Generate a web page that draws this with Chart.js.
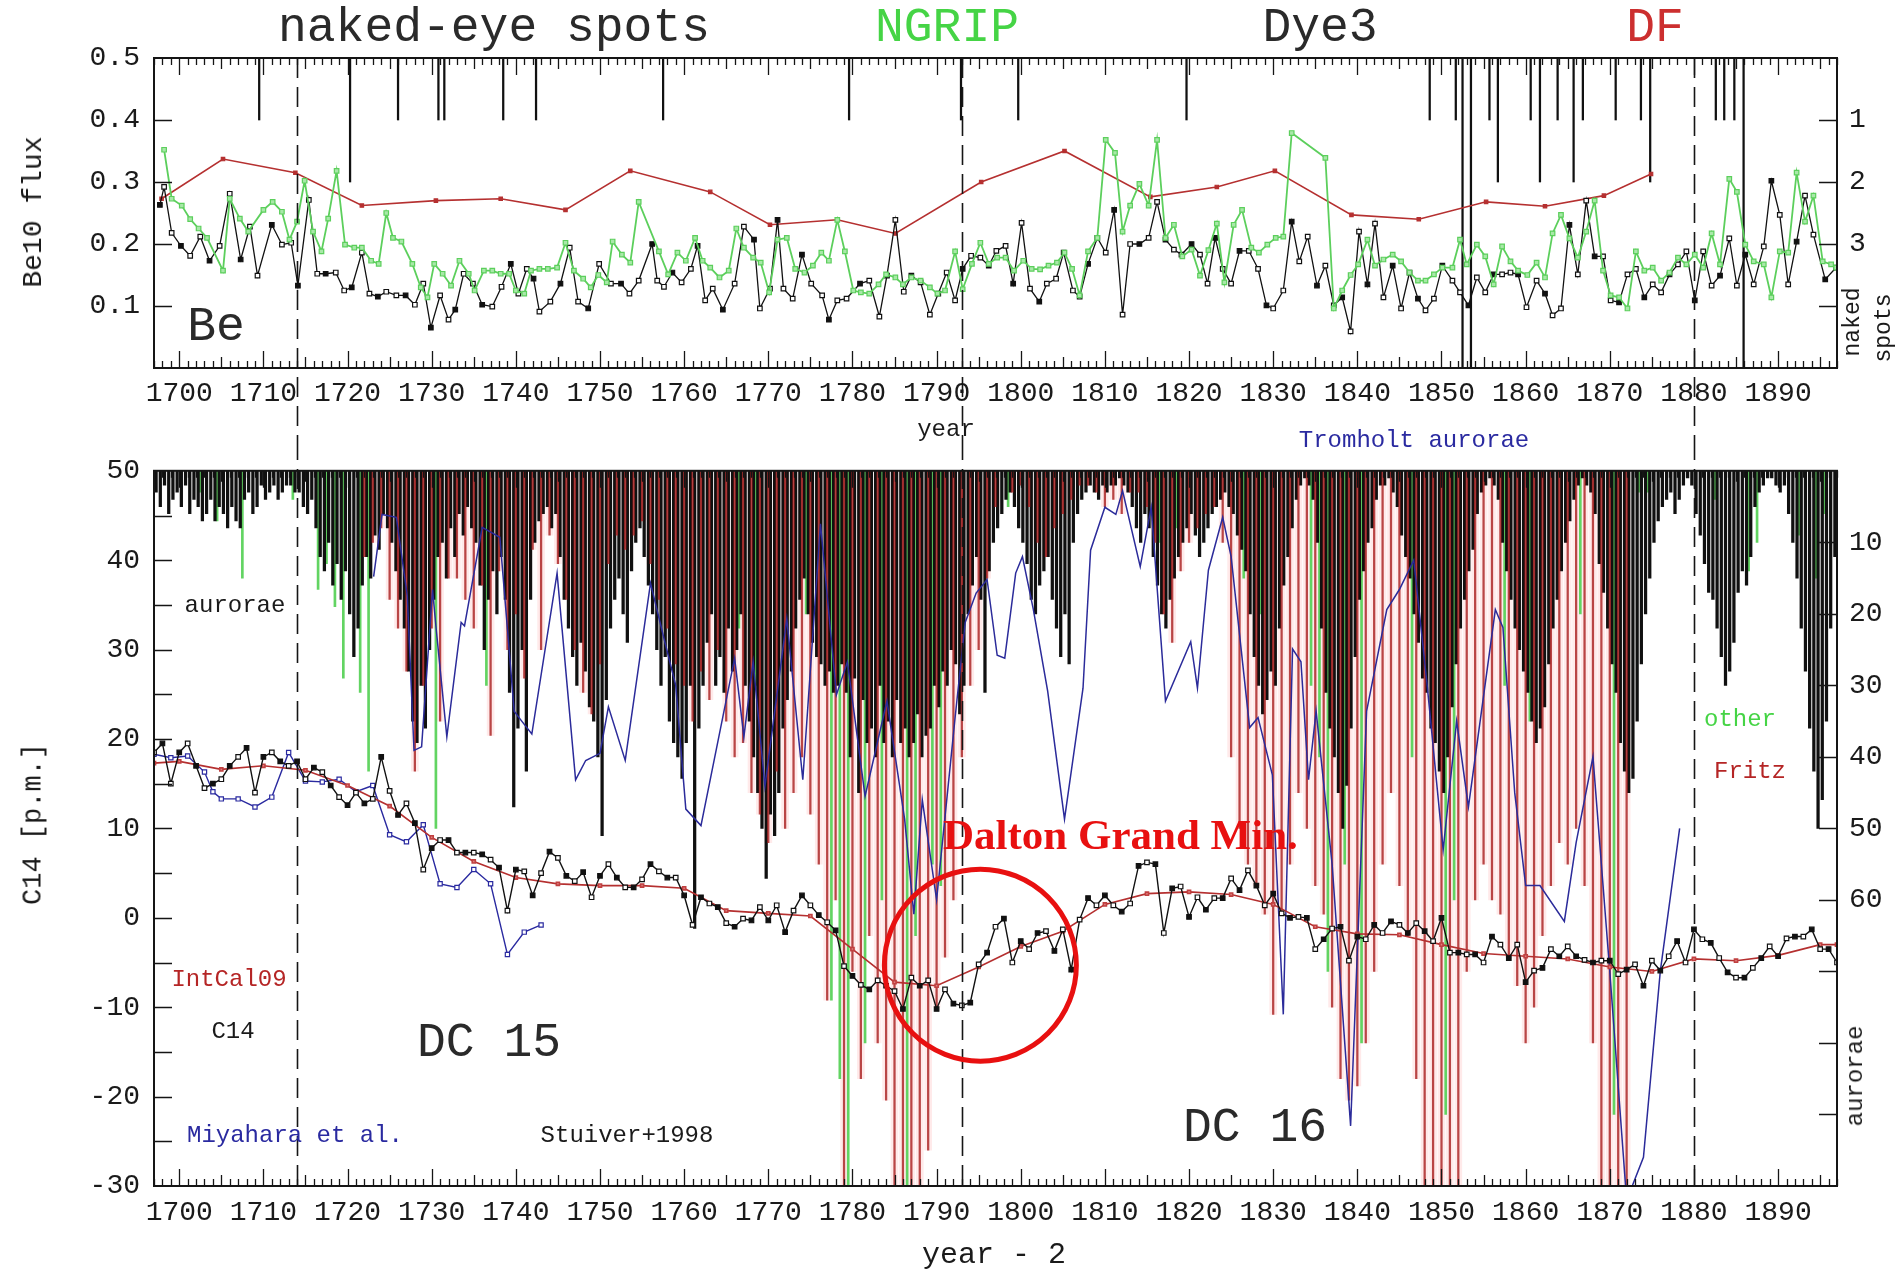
<!DOCTYPE html>
<html>
<head>
<meta charset="utf-8">
<title>Be10, C14 and aurorae 1697-1897</title>
<script src="https://cdn.jsdelivr.net/npm/chart.js@4.4.1/dist/chart.umd.min.js"></script>
<style>
  html, body { margin: 0; padding: 0; background: #ffffff; }
  #page { position: relative; width: 1901px; height: 1272px; overflow: hidden; background: #ffffff;
          font-family: 'Liberation Mono', 'DejaVu Sans Mono', monospace; }
  #page canvas { position: absolute; left: 0; }
  #c1 { top: 0; }
  #c2 { top: 440px; }
  .lbl { position: absolute; white-space: nowrap; line-height: 1; transform: translate(-50%, -50%); }
  .rot { transform: translate(-50%, -50%) rotate(-90deg); }
</style>
</head>
<body>
<div id="page">
  <canvas id="c1" width="1901" height="440"></canvas>
  <canvas id="c2" width="1901" height="832"></canvas>

  <!-- upper panel captions -->
  <div class="lbl" style="left:494px;top:28px;font-size:48px;color:#2a2a2a;">naked-eye spots</div>
  <div class="lbl" style="left:947px;top:28px;font-size:48px;color:#45d445;">NGRIP</div>
  <div class="lbl" style="left:1320px;top:28px;font-size:48px;color:#2a2a2a;">Dye3</div>
  <div class="lbl" style="left:1655px;top:28px;font-size:48px;color:#cc2f2f;">DF</div>
  <div class="lbl" style="left:216px;top:327px;font-size:48px;color:#2a2a2a;">Be</div>
  <div class="lbl rot" style="left:34px;top:212px;font-size:28px;color:#1a1a1a;">Be10 flux</div>
  <div class="lbl rot" style="left:1853px;top:322px;font-size:23px;color:#1a1a1a;">naked</div>
  <div class="lbl rot" style="left:1884px;top:328px;font-size:23px;color:#1a1a1a;">spots</div>
  <div class="lbl" style="left:946px;top:430px;font-size:24px;color:#1a1a1a;">year</div>

  <!-- lower panel captions -->
  <div class="lbl" style="left:1414px;top:441px;font-size:24px;color:#2a2aa0;">Tromholt aurorae</div>
  <div class="lbl rot" style="left:34px;top:824px;font-size:27px;color:#1a1a1a;">C14 [p.m.]</div>
  <div class="lbl" style="left:235px;top:606px;font-size:24px;color:#1a1a1a;">aurorae</div>
  <div class="lbl" style="left:229px;top:980px;font-size:24px;color:#b52525;">IntCal09</div>
  <div class="lbl" style="left:233px;top:1032px;font-size:24px;color:#1a1a1a;">C14</div>
  <div class="lbl" style="left:489px;top:1043px;font-size:48px;color:#2a2a2a;">DC 15</div>
  <div class="lbl" style="left:1255px;top:1128px;font-size:48px;color:#2a2a2a;">DC 16</div>
  <div class="lbl" style="left:295px;top:1136px;font-size:24px;color:#2a2aa0;">Miyahara et al.</div>
  <div class="lbl" style="left:627px;top:1136px;font-size:24px;color:#1a1a1a;">Stuiver+1998</div>
  <div class="lbl" style="left:1740px;top:720px;font-size:24px;color:#45d445;">other</div>
  <div class="lbl" style="left:1750px;top:772px;font-size:24px;color:#b52525;">Fritz</div>
  <div class="lbl rot" style="left:1856px;top:1076px;font-size:24px;color:#1a1a1a;">aurorae</div>
  <div class="lbl" style="left:994px;top:1255px;font-size:30px;color:#1a1a1a;">year - 2</div>
  <div class="lbl" style="left:943px;top:834px;transform:translate(0,-50%);font-family:'Liberation Serif','Times New Roman',serif;font-weight:bold;font-size:43px;color:#e81010;">Dalton Grand Min.</div>
</div>

<script>
// ---------------- axis ranges and tick labels ----------------
const yearMin = 1697, yearMax = 1897;
const decadeLabels = [1700, 1710, 1720, 1730, 1740, 1750, 1760, 1770, 1780, 1790,
                      1800, 1810, 1820, 1830, 1840, 1850, 1860, 1870, 1880, 1890];
const beLabels = [0.1, 0.2, 0.3, 0.4, 0.5];
const beTickMarks = [0.1, 0.2, 0.3, 0.4];
const spotLabels = [1, 2, 3];
const spotTickMarks = [1, 2, 3, 4];
const c14Labels = [-30, -20, -10, 0, 10, 20, 30, 40, 50];
const c14TickMarks = [-25, -20, -15, -10, -5, 0, 5, 10, 15, 20, 25, 30, 35, 40, 45];
const aurLabels = [10, 20, 30, 40, 50, 60];
const aurTickMarks = [10, 20, 30, 40, 50, 60, 70, 80, 90];
const dashedYears = [1714, 1793, 1880];
const daltonCircle = { year: 1795.2, c14: -5.3, radius: 96 };

// ---------------- naked-eye sunspot sightings (count per year) ----------------
const spotYears = [1709.5, 1720.3, 1726.0, 1730.8, 1731.5, 1738.5, 1742.4, 1757.5, 1779.6, 1792.9,
                   1799.7, 1819.7, 1848.6, 1851.7, 1852.5, 1853.5, 1855.7, 1856.7, 1860.6, 1861.7,
                   1863.8, 1865.7, 1866.8, 1870.7, 1873.7, 1874.8, 1882.6, 1883.6, 1884.8, 1885.9];
const spotCounts = [1, 2, 1, 1, 1, 1, 1, 1, 1, 1,
                    1, 1, 1, 1, 5, 5, 1, 2, 1, 2,
                    1, 2, 1, 1, 1, 2, 1, 1, 1, 5];

// ---------------- Be10 flux: Dye3 ----------------
const dye3Years = [1697.7, 1698.2, 1699.1, 1700.2, 1701.3, 1702.5, 1703.6, 1704.8, 1706.0, 1707.3,
  1708.4, 1709.3, 1711.0, 1712.2, 1713.3, 1714.1, 1715.4, 1716.4, 1717.4, 1718.6,
  1719.6, 1720.5, 1721.7, 1722.6, 1723.6, 1724.6, 1725.8, 1726.9, 1728.0, 1729.0,
  1729.9, 1731.0, 1732.0, 1732.8, 1733.8, 1734.9, 1736.0, 1737.2, 1738.3, 1739.4,
  1740.3, 1741.3, 1742.1, 1742.8, 1744.1, 1745.3, 1746.4, 1747.4, 1748.6, 1749.9,
  1751.3, 1752.5, 1753.5, 1754.6,
  1756.2, 1756.8, 1757.6, 1758.6, 1759.7, 1760.8, 1761.6, 1762.5, 1763.4, 1764.6,
  1766.0, 1767.1, 1768.3, 1769.0, 1770.2, 1771.1, 1771.8, 1772.9, 1774.0, 1775.1,
  1776.4, 1777.2, 1778.2, 1779.3, 1780.9, 1782.0, 1783.2, 1784.1, 1785.1, 1786.1,
  1787.0, 1788.1, 1789.2, 1790.2, 1791.2, 1792.2,
  1793.1, 1794.1, 1795.2, 1796.2, 1797.1, 1798.2, 1799.1, 1800.1, 1801.1, 1802.2,
  1803.1, 1804.2, 1805.1, 1806.2, 1807.0, 1808.0, 1809.1, 1810.1, 1811.1, 1812.1,
  1813.0, 1814.1, 1815.2, 1816.2, 1817.2, 1818.2, 1819.1, 1820.3, 1821.3, 1822.2,
  1823.1, 1824.0, 1825.0, 1826.0, 1827.1, 1828.2,
  1829.2, 1830.0, 1831.2, 1832.2, 1833.1, 1834.1, 1835.2, 1836.2, 1837.2, 1838.2,
  1839.2, 1840.2, 1841.2, 1842.1, 1843.1, 1844.2, 1845.2, 1846.2, 1847.2, 1848.1,
  1849.1, 1850.1, 1851.3, 1852.2, 1853.2, 1854.2, 1855.2, 1856.2, 1857.2, 1858.2,
  1859.1, 1860.1, 1861.3, 1862.3, 1863.2, 1864.2, 1865.2, 1866.2, 1867.2, 1868.2,
  1869.2, 1870.1, 1871.1, 1872.1, 1873.1, 1874.1, 1875.1, 1876.1, 1877.1, 1878.1,
  1879.1, 1880.1, 1881.1, 1882.1, 1883.1, 1884.2, 1885.1, 1886.1, 1887.1, 1888.3,
  1889.2, 1890.2, 1891.2, 1892.2, 1893.2, 1894.2, 1895.6, 1896.9];
const dye3Flux = [0.263, 0.292, 0.218, 0.197, 0.181, 0.212, 0.173, 0.197, 0.281, 0.175,
  0.228, 0.149, 0.231, 0.199, 0.202, 0.133, 0.271, 0.152, 0.152, 0.154,
  0.125, 0.130, 0.186, 0.120, 0.115, 0.123, 0.117, 0.117, 0.102, 0.136,
  0.065, 0.117, 0.078, 0.094, 0.152, 0.136, 0.102, 0.099, 0.131, 0.168,
  0.120, 0.160, 0.144, 0.091, 0.107, 0.136, 0.194, 0.107, 0.096, 0.168,
  0.136, 0.136, 0.120, 0.141,
  0.200, 0.141, 0.131, 0.154, 0.138, 0.160, 0.197, 0.109, 0.128, 0.094,
  0.136, 0.228, 0.207, 0.096, 0.128, 0.239, 0.128, 0.112, 0.183, 0.136,
  0.117, 0.078, 0.109, 0.112, 0.136, 0.141, 0.083, 0.149, 0.239, 0.123,
  0.149, 0.138, 0.086, 0.120, 0.154, 0.109,
  0.160, 0.181, 0.178, 0.165, 0.189, 0.197, 0.136, 0.234, 0.128, 0.107,
  0.136, 0.144, 0.186, 0.125, 0.115, 0.168, 0.210, 0.186, 0.255, 0.086,
  0.200, 0.200, 0.210, 0.268, 0.207, 0.191, 0.183, 0.200, 0.183, 0.136,
  0.210, 0.160, 0.136, 0.189, 0.189, 0.160,
  0.101, 0.096, 0.125, 0.236, 0.172, 0.212, 0.133, 0.165, 0.101, 0.114,
  0.059, 0.220, 0.135, 0.233, 0.114, 0.165, 0.096, 0.154, 0.112, 0.093,
  0.112, 0.165, 0.141, 0.122, 0.101, 0.146, 0.122, 0.151, 0.151, 0.154,
  0.151, 0.098, 0.141, 0.120, 0.085, 0.096, 0.231, 0.151, 0.270, 0.180,
  0.180, 0.109, 0.106, 0.151, 0.160, 0.114, 0.135, 0.122, 0.151, 0.167,
  0.188, 0.109, 0.188, 0.133, 0.149, 0.209, 0.133, 0.183, 0.135, 0.196,
  0.302, 0.247, 0.135, 0.204, 0.278, 0.215, 0.143, 0.162];

// ---------------- Be10 flux: NGRIP ----------------
const ngripYears = [1698.2, 1699.1, 1700.3, 1701.3, 1702.3, 1703.3, 1705.2, 1706.0, 1707.2, 1708.2,
  1710.0, 1711.1, 1712.2, 1713.1, 1714.0, 1714.9, 1715.9, 1716.9, 1717.7, 1718.7,
  1719.7, 1720.8, 1721.7, 1722.8, 1723.7, 1724.6, 1725.4, 1726.4, 1727.7, 1728.7,
  1729.5, 1730.3, 1731.3, 1732.3, 1733.3, 1734.4, 1735.1, 1736.2, 1737.2, 1738.2,
  1739.2, 1740.0, 1741.0, 1741.8, 1742.8, 1743.8, 1744.9, 1745.9, 1746.9, 1748.0,
  1748.9, 1749.8, 1750.8, 1751.5, 1752.6, 1753.6, 1754.6,
  1757.0, 1758.1, 1759.2, 1760.2, 1761.3, 1762.2, 1763.1, 1764.2, 1765.3, 1766.2,
  1767.1, 1768.2, 1769.1, 1770.1, 1771.1, 1772.2, 1773.2, 1774.3, 1775.3, 1776.3,
  1777.2, 1778.2, 1779.1, 1780.1, 1781.0, 1782.0, 1783.1, 1784.0, 1785.1, 1786.0,
  1787.0, 1788.1, 1789.2, 1790.1, 1791.0, 1792.2, 1793.1, 1794.2, 1795.2, 1796.2,
  1797.2, 1798.2, 1799.2, 1800.3, 1801.3, 1802.3, 1803.3, 1804.3, 1805.2, 1806.1,
  1807.0, 1808.0, 1809.1, 1810.1, 1811.2, 1812.1, 1813.0, 1814.1, 1815.2, 1816.2,
  1817.2, 1818.2, 1819.2, 1820.3, 1821.3, 1822.3, 1823.3, 1824.2, 1825.3, 1826.3,
  1827.4, 1828.3, 1829.3, 1830.3, 1831.2, 1832.2, 1836.2, 1837.2, 1838.2, 1839.2,
  1840.1, 1841.2, 1842.1, 1843.1, 1844.2, 1845.2, 1846.2, 1847.2, 1848.1, 1849.1,
  1850.1, 1851.3, 1852.2, 1853.0, 1854.2, 1855.2, 1856.2, 1857.2, 1858.2, 1859.1,
  1860.2, 1861.3, 1862.3, 1863.2, 1864.2, 1865.2, 1866.2, 1867.2, 1868.2, 1869.2,
  1870.1, 1871.1, 1872.1, 1873.1, 1874.1, 1875.1, 1876.1, 1877.1, 1878.1, 1879.1,
  1880.1, 1881.1, 1882.1, 1883.1, 1884.2, 1885.1, 1886.1, 1887.1, 1888.3, 1889.2,
  1890.2, 1891.2, 1892.2, 1893.2, 1894.2, 1895.3, 1896.3, 1896.9];
const ngripFlux = [0.352, 0.273, 0.262, 0.240, 0.225, 0.210, 0.157, 0.273, 0.241, 0.220,
  0.255, 0.268, 0.252, 0.207, 0.236, 0.302, 0.220, 0.188, 0.241, 0.318,
  0.199, 0.194, 0.194, 0.173, 0.168, 0.250, 0.210, 0.204, 0.168, 0.130,
  0.114, 0.168, 0.152, 0.133, 0.173, 0.152, 0.125, 0.157, 0.157, 0.152,
  0.152, 0.125, 0.120, 0.157, 0.160, 0.160, 0.162, 0.202, 0.157, 0.144,
  0.130, 0.150, 0.138, 0.204, 0.183, 0.170, 0.268,
  0.188, 0.151, 0.186, 0.173, 0.210, 0.173, 0.162, 0.146, 0.157, 0.225,
  0.194, 0.178, 0.170, 0.122, 0.207, 0.210, 0.160, 0.154, 0.165, 0.186,
  0.173, 0.239, 0.188, 0.125, 0.122, 0.120, 0.135, 0.151, 0.146, 0.135,
  0.146, 0.141, 0.130, 0.120, 0.125, 0.188, 0.127, 0.168, 0.202, 0.168,
  0.178, 0.178, 0.157, 0.173, 0.160, 0.159, 0.165, 0.170, 0.186, 0.160,
  0.117, 0.188, 0.210, 0.368, 0.347, 0.220, 0.262, 0.297, 0.262, 0.368,
  0.210, 0.231, 0.180, 0.191, 0.149, 0.190, 0.233, 0.138, 0.231, 0.255,
  0.194, 0.186, 0.199, 0.210, 0.212, 0.379, 0.339, 0.096, 0.125, 0.150,
  0.167, 0.207, 0.165, 0.175, 0.183, 0.172, 0.154, 0.141, 0.141, 0.151,
  0.162, 0.162, 0.207, 0.167, 0.199, 0.180, 0.135, 0.196, 0.172, 0.157,
  0.150, 0.170, 0.146, 0.217, 0.247, 0.209, 0.178, 0.220, 0.270, 0.157,
  0.117, 0.114, 0.096, 0.188, 0.157, 0.162, 0.141, 0.154, 0.178, 0.167,
  0.183, 0.162, 0.217, 0.167, 0.305, 0.284, 0.199, 0.172, 0.167, 0.114,
  0.188, 0.186, 0.315, 0.236, 0.278, 0.172, 0.167, 0.162];

// ---------------- Be10 flux: DF ----------------
const dfYears = [1697.9, 1705.2, 1713.8, 1721.7, 1730.5, 1738.2, 1745.9, 1753.6, 1763.1, 1770.2,
                 1778.2, 1785.1, 1795.3, 1805.2, 1815.4, 1823.3, 1830.2, 1839.3, 1847.3, 1855.3,
                 1862.3, 1869.3, 1874.9];
const dfFlux = [0.273, 0.337, 0.315, 0.262, 0.270, 0.273, 0.255, 0.318, 0.284, 0.231,
                0.239, 0.217, 0.300, 0.350, 0.276, 0.292, 0.318, 0.247, 0.240, 0.268,
                0.261, 0.278, 0.313];

// ---------------- C14 (Stuiver+1998), annual from 1697 ----------------
const c14Start = 1697;
const c14Values = [18.5, 19.5, 15.0,
  18.5, 19.5, 17.0, 14.5, 15.0, 15.5, 17.0, 18.0, 19.0, 14.0,
  18.0, 18.5, 17.5, 17.0, 17.5, 15.5, 16.8, 16.3, 14.8, 13.5,
  12.6, 14.0, 12.8, 13.3, 18.0, 14.2, 11.5, 12.8, 10.6, 5.4,
  7.8, 8.7, 8.7, 7.3, 7.3, 7.3, 7.1, 6.5, 5.6, 0.8,
  5.4, 5.2, 2.5, 5.0, 7.4, 6.7, 4.7, 4.1, 5.1, 2.3,
  4.7, 6.0, 4.5, 3.4, 3.4, 4.3, 6.0, 5.2, 4.5, 4.5,
  2.5, -0.8, 2.3, 1.6, 1.2, -0.6, -1.0, -0.1, -0.3, 1.2,
  -0.3, 1.4, -1.6, 0.8, 2.5, 1.4, 0.3, -0.5, -1.4, -5.4,
  -6.5, -7.5, -8.0, -7.0, -7.6, -8.2, -10.2, -6.7, -7.6, -7.0,
  -10.2, -8.0, -9.6, -9.8, -9.5, -5.2, -3.9, -1.0, -0.1, -5.0,
  -2.6, -3.5, -1.7, -1.5, -3.7, -1.3, -5.8, -0.2, 2.2, 1.4,
  2.5, 1.4, 0.7, 1.6, 5.8, 6.2, 6.0, -1.7, 3.3, 3.5,
  0.1, 2.3, 0.9, 2.2, 2.2, 4.4, 3.1, 5.3, 3.6, 1.4,
  2.7, 0.5, 0.0, 0.1, 0.0, -3.5, -2.4, -1.2, -1.0, -4.8,
  -2.1, -2.4, -0.8, -1.7, -0.4, -0.8, -1.7, -0.6, -1.5, -2.6,
  0.0, -3.9, -3.9, -4.1, -4.1, -5.0, -2.1, -3.0, -4.5, -3.0,
  -7.2, -5.9, -5.6, -3.5, -4.3, -3.2, -4.3, -4.7, -5.0, -4.8,
  -4.8, -6.3, -5.8, -5.2, -7.6, -4.8, -5.9, -4.3, -2.6, -5.0,
  -1.3, -2.4, -2.8, -4.5, -6.1, -6.7, -6.7, -5.6, -4.5, -3.2,
  -4.3, -2.3, -2.1, -2.1, -1.3, -3.5, -3.5, -5.0];

// ---------------- IntCal09 ----------------
const intcalYears = [1697, 1700, 1705, 1710, 1715, 1720, 1725, 1730, 1735, 1740, 1745, 1750, 1755, 1760,
  1765, 1770, 1775, 1780, 1785, 1790, 1795, 1800, 1805, 1810, 1815, 1820, 1825, 1830, 1835,
  1840, 1845, 1850, 1855, 1860, 1865, 1870, 1875, 1880, 1885, 1890, 1895, 1897];
const intcalValues = [17.3, 17.5, 16.6, 17.0, 16.5, 14.8, 12.5, 9.0, 6.3, 4.5, 3.8, 3.6, 3.6, 3.3,
  0.8, 0.5, 0.2, -3.5, -7.2, -7.6, -5.5, -3.2, -1.5, 1.5, 2.7, 2.9, 2.6, 1.5, -1.0,
  -1.8, -1.9, -3.0, -4.0, -4.3, -4.6, -5.5, -6.0, -4.6, -4.8, -4.2, -3.0, -3.0];

// ---------------- Miyahara et al. ----------------
const miyaharaYears = [1697, 1699, 1701, 1703, 1704, 1705, 1707, 1709, 1711, 1713, 1715, 1717, 1719,
  1721, 1723, 1725, 1727, 1729, 1731, 1733, 1735, 1737, 1739, 1741, 1743];
const miyaharaValues = [18.3, 17.9, 18.1, 16.3, 14.1, 13.3, 13.3, 12.4, 13.5, 18.5, 15.3, 15.2, 15.5,
  14.1, 14.8, 9.3, 8.5, 10.4, 3.8, 3.4, 5.4, 3.8, -4.1, -1.6, -0.8];

// ---------------- aurorae: catalogue counts, half-yearly from 1697 ----------------
const aurStart = 1697;
const aurCounts = [3, 5, 2, 6, 4, 3,
  5, 2, 6, 4, 5, 7, 6, 4, 7, 5, 6, 8, 5, 7, 8, 4, 3, 6, 5, 2,
  4, 3, 2, 4, 3, 2, 2, 3, 3, 5, 6, 4, 8, 12, 14, 10, 16, 13, 18, 14,
  20, 26, 22, 16, 12, 15, 9, 11, 6, 8, 10, 14, 18, 22, 28, 35, 38, 30, 36, 25,
  18, 12, 10, 15, 8, 12, 6, 9, 5, 8, 10, 16, 25, 18, 14, 20, 12, 18, 31, 47,
  36, 25, 42, 18, 10, 7, 6, 5, 8, 6, 12, 18, 22, 26, 30, 24, 28, 33, 35, 40,
  51, 32, 22, 18, 15, 20, 24, 14, 10, 8, 12, 16, 20, 25, 30, 26, 35, 38, 40, 43,
  38, 30, 64, 36, 30, 24, 20, 30, 26, 31, 22, 28, 25, 20, 30, 35, 40, 45, 50, 57,
  48, 51, 45, 36, 32, 28, 22, 18, 15, 20, 24, 26, 27, 30, 28, 31, 30, 27, 31, 40,
  29, 45, 32, 38, 36, 40, 30, 38, 35, 40, 32, 38, 36, 40, 38, 34, 40, 37, 36, 30,
  33, 28, 30, 25, 27, 34, 30, 20, 16, 12, 18, 31, 14, 10, 8, 6, 4, 3, 5, 8,
  10, 13, 18, 20, 16, 14, 12, 18, 22, 26, 20, 27, 10, 6, 4, 3, 2, 3, 4, 2,
  3, 2, 2, 1, 2, 3, 5, 8, 10, 6, 8, 12, 16, 20, 22, 18, 15, 12, 10, 8,
  6, 9, 12, 10, 8, 6, 5, 4, 3, 5, 6, 9, 11, 14, 20, 26, 30, 34, 32, 28,
  30, 22, 16, 12, 8, 4, 2, 1, 2, 4, 10, 22, 31, 36, 40, 45, 50, 44, 36, 26,
  18, 14, 10, 8, 4, 2, 2, 1, 3, 5, 9, 12, 15, 20, 24, 29, 31, 36, 38, 42,
  45, 40, 33, 27, 22, 18, 14, 11, 6, 3, 2, 1, 2, 4, 10, 14, 18, 22, 25, 28,
  31, 35, 38, 36, 33, 27, 22, 18, 14, 10, 7, 4, 2, 1, 2, 3, 6, 13, 17, 22,
  27, 31, 38, 42, 45, 43, 35, 27, 20, 15, 10, 7, 5, 4, 3, 6, 4, 2, 1, 2,
  6, 9, 13, 17, 18, 22, 26, 30, 28, 24, 17, 14, 16, 12, 5, 3, 2, 1, 1, 2,
  3, 2, 6, 10, 15, 22, 28, 36, 42, 50, 46, 35, 22, 12];

// ---------------- aurorae: Fritz, annual from 1722 ----------------
const fritzStart = 1722;
const fritzCounts = [12, 10, 8, 18, 22, 28, 42, 30,
  22, 35, 15, 15, 18, 22, 16, 37, 14, 25,
  20, 29, 11, 25, 9, 13, 18, 25, 31, 34,
  27, 13, 9, 11, 9, 7, 13, 18, 22, 27,
  30, 35, 28, 32, 25, 35, 40, 38, 45, 48,
  52, 42, 50, 45, 40, 48, 55, 74, 60, 100,
  70, 85, 65, 80, 88, 100, 100, 100, 100, 95,
  75, 68, 60, 40, 30, 25, 15, 5, 0, 3,
  2, 5, 10, 12, 8, 6, 4, 2, 2, 3,
  5, 4, 6, 3, 3, 5, 10, 20, 24, 14,
  10, 8, 6, 5, 10, 40, 50, 55, 58, 62,
  76, 62, 55, 45, 50, 58, 62, 75, 85, 88,
  86, 80, 70, 55, 45, 58, 65, 85, 100, 100,
  100, 100, 100, 70, 60, 55, 60, 62, 68, 72,
  80, 75, 65, 58, 52, 55, 50, 58, 80, 100,
  100, 100, 100];

// ---------------- aurorae: other catalogues ----------------
const otherYears = [1702.5, 1704.5, 1707.5, 1713.5, 1716.5, 1717.5, 1718.5, 1719.5, 1721.5, 1722.5,
  1730.5, 1736.5, 1766.5, 1768.5, 1774.5, 1777.5, 1778.5, 1779.5, 1781.5, 1783.5,
  1786.5, 1787.5, 1789.5, 1790.5, 1798.5, 1816.5, 1818.5, 1826.5, 1828.5, 1834.5,
  1835.5, 1836.5, 1838.5, 1840.5, 1846.5, 1850.5, 1851.5, 1857.5, 1860.5, 1866.5,
  1870.5, 1873.5, 1874.5, 1882.5, 1886.5, 1887.5, 1892.5, 1894.5, 1895.5];
const otherCounts = [3, 7, 15, 4, 16.6, 13, 19, 29, 31, 42,
  50, 30, 22, 30, 20, 74, 85, 100, 80, 60,
  100, 65, 55, 58, 5, 10, 8, 15, 20, 30,
  40, 70, 55, 80, 40, 90, 60, 30, 35, 20,
  90, 3, 3, 4, 14, 10, 9, 15, 6];

// ---------------- Tromholt aurorae ----------------
const tromYears = [1723.1, 1724.1, 1725.8, 1727.1, 1727.9, 1728.8, 1730.1, 1730.5, 1731.8, 1733.5,
  1733.9, 1736.0, 1738.1, 1739.0, 1739.8, 1740.7, 1741.9, 1744.9, 1747.1, 1748.3,
  1750.0, 1751.0, 1753.0, 1756.0, 1757.7, 1759.0, 1760.2, 1762.0, 1766.0, 1767.1,
  1768.2, 1769.6, 1772.2, 1774.1, 1776.2, 1778.1, 1779.4, 1781.5, 1784.1, 1786.2,
  1787.3, 1788.3, 1790.0, 1792.2, 1793.4, 1794.7, 1796.0, 1797.2, 1798.1, 1799.4,
  1800.2, 1801.5, 1803.2, 1805.2, 1807.4, 1808.3, 1810.0, 1811.3, 1812.1, 1814.2,
  1815.5, 1817.2, 1820.2, 1821.0, 1822.3, 1824.0, 1825.0, 1827.2, 1828.2, 1829.9,
  1831.2, 1832.3, 1833.3, 1834.2, 1835.1, 1837.0, 1839.2, 1841.1, 1843.5, 1845.0,
  1846.7, 1848.3, 1850.2, 1851.8, 1853.2, 1856.4, 1857.3, 1858.7, 1860.0, 1861.7,
  1864.6, 1866.0, 1868.0, 1870.0, 1872.0, 1874.0, 1876.0, 1878.3];
const tromCounts = [14.8, 6.1, 6.5, 17.5, 39.1, 38.6, 16.6, 21.7, 37.2, 21.2,
  21.7, 7.9, 9.3, 22.1, 33.6, 35.0, 36.8, 14.3, 43.2, 40.5,
  39.5, 33, 40.5, 15.7, 23.9, 30, 47.3, 49.6, 26.2, 37.2,
  26.7, 44.1, 20.7, 43.2, 7.4, 31.3, 26.7, 45.5, 32.2, 48.7,
  62, 46.0, 60, 34.5, 21.2, 17.1, 15.2, 25.8, 26.2, 14.3,
  12.0, 19.4, 30.8, 48.7, 30.4, 11.1, 5.1, 6.1, 2.8, 13.4,
  5.1, 32.2, 23.9, 30.4, 13.9, 6.5, 12, 35.9, 34.5, 42.5,
  76, 24.9, 26.7, 43.2, 33.6, 55, 91.6, 33.6, 19.4, 16.6,
  12.5, 30, 53, 35, 47, 19.4, 21.9, 45, 58, 58,
  63, 52, 40, 70, 102, 96, 70, 50];

// ---------------- helpers ----------------
const pairs = (xs, ys) => xs.map((x, i) => ({ x: x, y: ys[i] }));
const series = (start, step, ys, shift) => ys.map((y, i) => ({ x: start + i * step + shift, y: y }));

Chart.defaults.font.family = "'Liberation Mono', 'DejaVu Sans Mono', monospace";
Chart.defaults.color = '#1a1a1a';

// frame, inward tick marks, dashed cycle boundaries, optional circle
const frameTicks = {
  id: 'frameTicks',
  afterDatasetsDraw(chart, args, opts) {
    const { ctx, chartArea: a, scales } = chart;
    const xs = scales.x;
    ctx.save();
    ctx.strokeStyle = '#151515';
    ctx.lineWidth = 1.3;
    ctx.beginPath();
    for (let yr = Math.ceil(xs.min); yr <= Math.floor(xs.max); yr++) {
      const px = Math.round(xs.getPixelForValue(yr)) + 0.5;
      const len = yr % 10 === 0 ? 17 : (yr % 5 === 0 ? 11 : 7);
      ctx.moveTo(px, a.top); ctx.lineTo(px, a.top + len);
      ctx.moveTo(px, a.bottom); ctx.lineTo(px, a.bottom - len);
    }
    const ls = scales[opts.left];
    opts.leftTicks.forEach(v => {
      const py = Math.round(ls.getPixelForValue(v)) + 0.5;
      ctx.moveTo(a.left, py); ctx.lineTo(a.left + 18, py);
    });
    const rs = scales[opts.right];
    opts.rightTicks.forEach(v => {
      const py = Math.round(rs.getPixelForValue(v)) + 0.5;
      ctx.moveTo(a.right, py); ctx.lineTo(a.right - 18, py);
    });
    ctx.stroke();
    ctx.lineWidth = 2;
    ctx.strokeRect(a.left, a.top, a.right - a.left, a.bottom - a.top);

    ctx.lineWidth = 1.6;
    ctx.setLineDash([20, 9]);
    ctx.beginPath();
    const y0 = opts.dashFromCanvasTop ? 0 : a.top;
    const y1 = opts.dashToCanvasBottom ? chart.height : a.bottom;
    dashedYears.forEach(yr => {
      const px = Math.round(xs.getPixelForValue(yr)) + 0.5;
      ctx.moveTo(px, y0); ctx.lineTo(px, y1);
    });
    ctx.stroke();
    ctx.setLineDash([]);

    if (opts.circle) {
      const c = opts.circle;
      const cx = xs.getPixelForValue(c.year);
      const cy = scales[opts.left].getPixelForValue(c.c14);
      ctx.strokeStyle = '#e81010';
      ctx.lineWidth = 5;
      ctx.beginPath();
      ctx.arc(cx, cy, c.radius, 0, Math.PI * 2);
      ctx.stroke();
    }
    ctx.restore();
  }
};

function xAxis(height, pad) {
  return {
    type: 'linear', min: yearMin, max: yearMax, offset: false,
    grid: { display: false, drawTicks: false }, border: { display: false },
    afterBuildTicks: s => { s.ticks = decadeLabels.map(v => ({ value: v })); },
    afterFit: s => { s.height = height; },
    ticks: { autoSkip: false, maxRotation: 0, minRotation: 0, padding: pad,
             font: { size: 28 }, color: '#1a1a1a', callback: v => String(v) }
  };
}
function yAxis(pos, min, max, labels, fmt, width, reverse) {
  return {
    type: 'linear', position: pos, min: min, max: max, reverse: !!reverse,
    grid: { display: false, drawTicks: false }, border: { display: false },
    afterBuildTicks: s => { s.ticks = labels.map(v => ({ value: v })); },
    afterFit: s => { s.width = width; },
    ticks: { autoSkip: false, padding: pos === 'left' ? 14 : 12, font: { size: 28 }, color: '#1a1a1a', callback: fmt }
  };
}
const squares = (color, fill, r) => ({
  pointStyle: 'rect', pointRadius: r, pointBorderColor: color, pointBorderWidth: 1.2,
  pointBackgroundColor: fill
});

// ---------------- upper panel: Be10 flux and naked-eye spots ----------------
new Chart(document.getElementById('c1'), {
  type: 'line',
  data: {
    datasets: [
      Object.assign({ label: 'Dye3', data: pairs(dye3Years, dye3Flux), yAxisID: 'yBe',
        borderColor: '#111111', borderWidth: 1.3, tension: 0, order: 2 },
        squares('#111111', ctx => (ctx.dataIndex % 3 === 0 ? '#111111' : '#ffffff'), 3.2)),
      Object.assign({ label: 'NGRIP', data: pairs(ngripYears, ngripFlux), yAxisID: 'yBe',
        borderColor: '#5ccf5c', borderWidth: 1.8, tension: 0, order: 1 },
        squares('#5ccf5c', '#a8e8a8', 3.2)),
      Object.assign({ label: 'DF', data: pairs(dfYears, dfFlux), yAxisID: 'yBe',
        borderColor: '#b53030', borderWidth: 1.6, tension: 0, order: 3 },
        squares('#b53030', '#b53030', 2.4)),
      { type: 'bar', label: 'naked-eye spots', data: pairs(spotYears, spotCounts), yAxisID: 'ySpots',
        backgroundColor: '#111111', borderWidth: 0, barThickness: 1.6, grouped: false, order: 4 }
    ]
  },
  options: {
    responsive: false, animation: false, devicePixelRatio: 1, events: [],
    layout: { padding: { top: 58, left: 0, right: 0, bottom: 0 } },
    scales: {
      x: xAxis(72, 9),
      yBe: yAxis('left', 0, 0.5, beLabels, v => v.toFixed(1), 154),
      ySpots: yAxis('right', 0, 5, spotLabels, v => String(v), 64, true)
    },
    plugins: {
      legend: { display: false }, tooltip: { enabled: false },
      frameTicks: { left: 'yBe', leftTicks: beTickMarks, right: 'ySpots', rightTicks: spotTickMarks,
                    dashFromCanvasTop: false, dashToCanvasBottom: true }
    }
  },
  plugins: [frameTicks]
});

// ---------------- lower panel: C14 and aurorae ----------------
new Chart(document.getElementById('c2'), {
  type: 'line',
  data: {
    datasets: [
      { label: 'C14', data: series(c14Start, 1, c14Values, 0), yAxisID: 'yC',
        borderColor: '#111111', borderWidth: 1.4, tension: 0, order: 1,
        pointStyle: 'rect', pointRadius: 3.2, pointBorderColor: '#111111', pointBorderWidth: 1.2,
        pointBackgroundColor: ctx => (ctx.dataIndex % 2 === 0 ? '#ffffff' : '#111111') },
      { label: 'IntCal09', data: pairs(intcalYears, intcalValues), yAxisID: 'yC',
        borderColor: '#b53030', borderWidth: 1.6, tension: 0, order: 2,
        pointStyle: 'rect', pointRadius: 2.2, pointBorderColor: '#c04040', pointBackgroundColor: '#e08080' },
      { label: 'Miyahara et al.', data: pairs(miyaharaYears, miyaharaValues), yAxisID: 'yC',
        borderColor: '#2a2aa0', borderWidth: 1.4, tension: 0, order: 3,
        pointStyle: 'rect', pointRadius: 3, pointBorderColor: '#2a2aa0', pointBorderWidth: 1.2, pointBackgroundColor: '#ffffff' },
      { label: 'Tromholt aurorae', data: pairs(tromYears, tromCounts), yAxisID: 'yA',
        borderColor: '#2b2b9a', borderWidth: 1.5, tension: 0, pointRadius: 0, order: 4 },
      { type: 'bar', label: 'Fritz', data: series(fritzStart, 1, fritzCounts, 0), yAxisID: 'yA',
        backgroundColor: 'rgba(168,28,28,0.8)', borderWidth: 0, barThickness: 1.6, grouped: false, order: 5 },
      { type: 'bar', label: 'aurorae', data: series(aurStart, 0.5, aurCounts, 0.25), yAxisID: 'yA',
        backgroundColor: '#101010', borderWidth: 0, barThickness: 2.6, grouped: false, order: 6 },
      { type: 'bar', label: 'other', data: pairs(otherYears, otherCounts), yAxisID: 'yA',
        backgroundColor: '#62d462', borderWidth: 0, barThickness: 2, grouped: false, order: 7 },
      { type: 'bar', label: 'Fritz halo', data: series(fritzStart, 1, fritzCounts, 0), yAxisID: 'yA',
        backgroundColor: 'rgba(255,150,150,0.2)', borderWidth: 0, barThickness: 7, grouped: false, order: 8 }
    ]
  },
  options: {
    responsive: false, animation: false, devicePixelRatio: 1, events: [],
    layout: { padding: { top: 22, left: 0, right: 0, bottom: 0 } },
    scales: {
      x: xAxis(86, 10),
      yC: yAxis('left', -30, 50, c14Labels, v => String(v), 154),
      yA: yAxis('right', 0, 100, aurLabels, v => String(v), 64, true)
    },
    plugins: {
      legend: { display: false }, tooltip: { enabled: false },
      frameTicks: { left: 'yC', leftTicks: c14TickMarks, right: 'yA', rightTicks: aurTickMarks,
                    dashFromCanvasTop: true, dashToCanvasBottom: false, circle: daltonCircle }
    }
  },
  plugins: [frameTicks]
});
</script>
</body>
</html>
